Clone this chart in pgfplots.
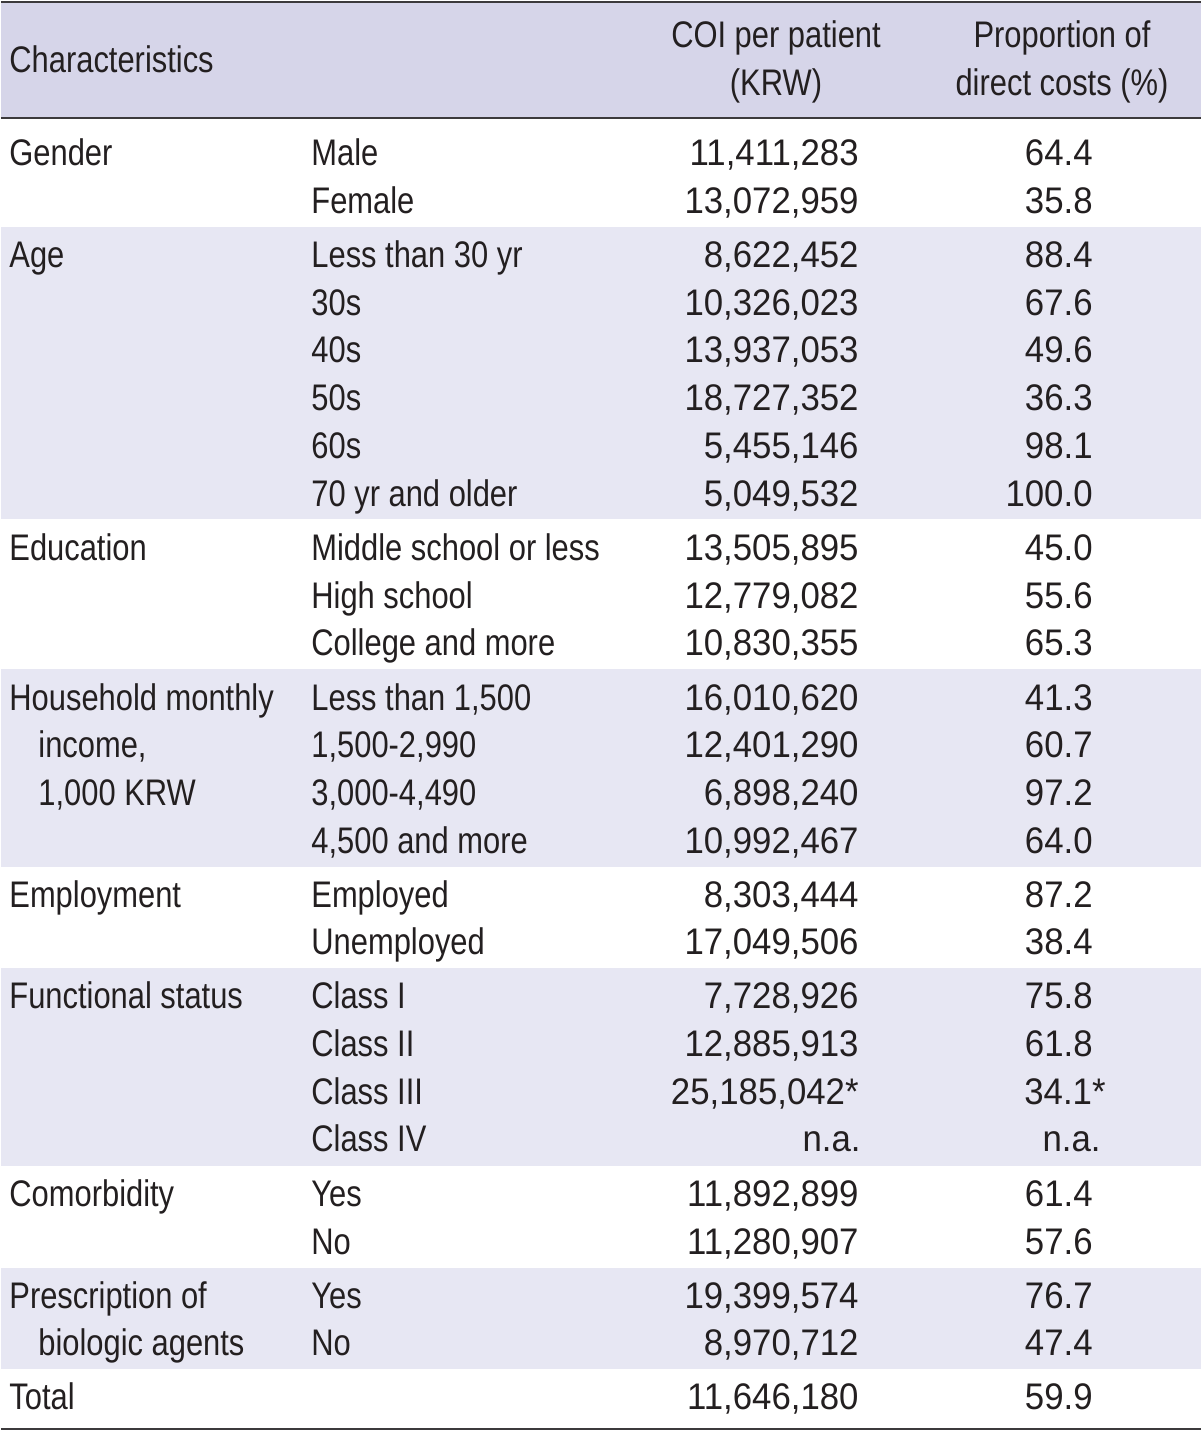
\documentclass[border=0pt]{standalone}
\usepackage{pgfplots}
\pgfplotsset{compat=1.18}
\usepackage{pgfplotstable}
\usepackage{fontspec}
\setmainfont[FakeStretch=0.835]{Liberation Sans}
\newfontfamily\numfont[FakeStretch=0.94]{Liberation Sans}
\definecolor{hdr}{RGB}{214,213,233}
\definecolor{band}{RGB}{231,231,243}
\definecolor{txt}{RGB}{35,31,32}
\definecolor{rule}{RGB}{60,58,60}
\newcommand{\tf}{\fontsize{18.5}{22}\selectfont\color{txt}}
\newcommand{\nf}{\numfont\fontsize{18.5}{22}\selectfont\color{txt}}

\pgfplotstableread{
x y label
858 165 11,411,283
858 213 13,072,959
858 267 8,622,452
858 315 10,326,023
858 362 13,937,053
858 410 18,727,352
858 458 5,455,146
858 506 5,049,532
858 560 13,505,895
858 608 12,779,082
858 655 10,830,355
858 710 16,010,620
858 757 12,401,290
858 805 6,898,240
858 853 10,992,467
858 907 8,303,444
858 954 17,049,506
858 1008 7,728,926
858 1056 12,885,913
858 1104 25,185,042*
860 1151 n.a.
858 1206 11,892,899
858 1254 11,280,907
858 1308 19,399,574
858 1355 8,970,712
858 1409 11,646,180
}\coi

\pgfplotstableread{
x y label
1092 165 64.4
1092 213 35.8
1092 267 88.4
1092 315 67.6
1092 362 49.6
1092 410 36.3
1092 458 98.1
1092 506 100.0
1092 560 45.0
1092 608 55.6
1092 655 65.3
1092 710 41.3
1092 757 60.7
1092 805 97.2
1092 853 64.0
1092 907 87.2
1092 954 38.4
1092 1008 75.8
1092 1056 61.8
1105 1104 34.1*
1100 1151 n.a.
1092 1206 61.4
1092 1254 57.6
1092 1308 76.7
1092 1355 47.4
1092 1409 59.9
}\prop

\begin{document}
\begin{tikzpicture}
\begin{axis}[
  width=600pt, height=715.5pt, scale only axis,
  xmin=0, xmax=1200, ymin=0, ymax=1431, y dir=reverse,
  enlargelimits=false, hide axis, clip=false,
]
% background
\addplot[fill=white, draw=none] coordinates {(0,0) (1200,0) (1200,1431) (0,1431)} -- cycle;
% header and bands
\addplot[fill=hdr, draw=none] coordinates {(0,2) (1200,2) (1200,117) (0,117)} -- cycle;
\addplot[fill=band, draw=none] coordinates {(0,227) (1200,227) (1200,519) (0,519)} -- cycle;
\addplot[fill=band, draw=none] coordinates {(0,669) (1200,669) (1200,867) (0,867)} -- cycle;
\addplot[fill=band, draw=none] coordinates {(0,968) (1200,968) (1200,1166) (0,1166)} -- cycle;
\addplot[fill=band, draw=none] coordinates {(0,1268) (1200,1268) (1200,1369) (0,1369)} -- cycle;
% rules
\addplot[draw=rule, line width=1pt] coordinates {(0,1.5) (1200,1.5)};
\addplot[draw=rule, line width=1pt] coordinates {(0,117.5) (1200,117.5)};
\addplot[draw=rule, line width=1pt] coordinates {(0,1429) (1200,1429)};

% header
\node[anchor=base west, inner sep=0pt, font=\tf] at (axis cs:8,72) {Characteristics};
\node[anchor=base, inner sep=0pt, font=\tf] at (axis cs:775,47) {COI per patient};
\node[anchor=base, inner sep=0pt, font=\tf] at (axis cs:775,95) {(KRW)};
\node[anchor=base, inner sep=0pt, font=\tf] at (axis cs:1061,47) {Proportion of};
\node[anchor=base, inner sep=0pt, font=\tf] at (axis cs:1061,95) {direct costs (\%)};

% first column
\begin{scope}[every node/.style={anchor=base west, inner sep=0pt, font=\tf}]
\node at (axis cs:8,165) {Gender};
\node at (axis cs:8,267) {Age};
\node at (axis cs:8,560) {Education};
\node at (axis cs:8,710) {Household monthly};
\node at (axis cs:37,757) {income,};
\node at (axis cs:37,805) {1,000 KRW};
\node at (axis cs:8,907) {Employment};
\node at (axis cs:8,1008) {Functional status};
\node at (axis cs:8,1206) {Comorbidity};
\node at (axis cs:8,1308) {Prescription of};
\node at (axis cs:37,1355) {biologic agents};
\node at (axis cs:8,1409) {Total};
% second column
\node at (axis cs:310,165) {Male};
\node at (axis cs:310,213) {Female};
\node at (axis cs:310,267) {Less than 30 yr};
\node at (axis cs:310,315) {30s};
\node at (axis cs:310,362) {40s};
\node at (axis cs:310,410) {50s};
\node at (axis cs:310,458) {60s};
\node at (axis cs:310,506) {70 yr and older};
\node at (axis cs:310,560) {Middle school or less};
\node at (axis cs:310,608) {High school};
\node at (axis cs:310,655) {College and more};
\node at (axis cs:310,710) {Less than 1,500};
\node at (axis cs:310,757) {1,500-2,990};
\node at (axis cs:310,805) {3,000-4,490};
\node at (axis cs:310,853) {4,500 and more};
\node at (axis cs:310,907) {Employed};
\node at (axis cs:310,954) {Unemployed};
\node at (axis cs:310,1008) {Class I};
\node at (axis cs:310,1056) {Class II};
\node at (axis cs:310,1104) {Class III};
\node at (axis cs:310,1151) {Class IV};
\node at (axis cs:310,1206) {Yes};
\node at (axis cs:310,1254) {No};
\node at (axis cs:310,1308) {Yes};
\node at (axis cs:310,1355) {No};
\end{scope}

% numeric columns
\addplot[draw=none, mark=none, nodes near coords, point meta=explicit symbolic,
  nodes near coords align={anchor=base east},
  every node near coord/.append style={anchor=base east, inner sep=0pt, font=\nf}]
  table[x=x, y=y, meta=label] {\coi};
\addplot[draw=none, mark=none, nodes near coords, point meta=explicit symbolic,
  nodes near coords align={anchor=base east},
  every node near coord/.append style={anchor=base east, inner sep=0pt, font=\nf}]
  table[x=x, y=y, meta=label] {\prop};
\end{axis}
\end{tikzpicture}
\end{document}
